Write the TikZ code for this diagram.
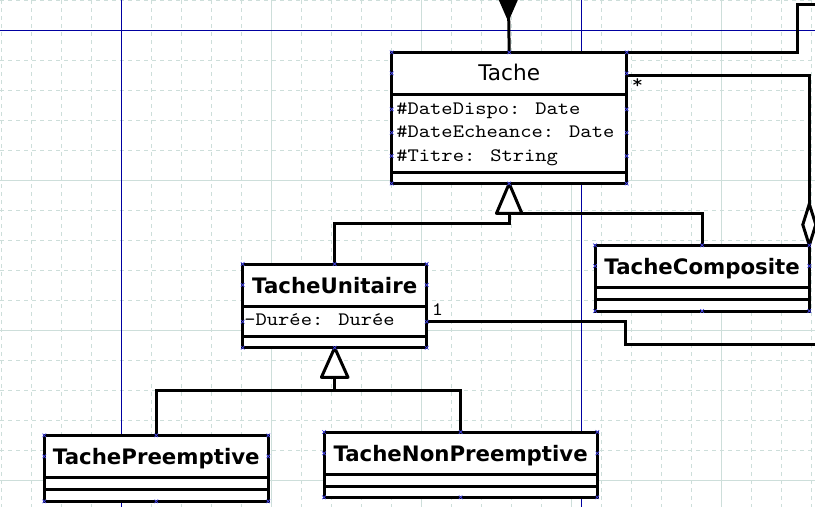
\documentclass[tikz,border=0pt]{standalone}
\usepackage{fontspec}
\setmainfont{DejaVu Sans}
\newfontfamily\monofont[FakeStretch=1.13]{lmmono10-regular.otf}
\usetikzlibrary{calc}

\definecolor{gridgray}{RGB}{205,222,218}
\definecolor{pageblue}{RGB}{0,0,160}
\definecolor{handleblue}{RGB}{70,70,235}

\begin{document}
\begin{tikzpicture}[x=1pt, y=-1pt,
    classbox/.style={draw, line width=3pt, fill=white, outer sep=0pt, inner sep=0pt, anchor=north west},
    classname/.style={font=\fontsize{21.3}{24}\selectfont\bfseries, inner sep=0pt, anchor=base},
    attr/.style={font=\monofont\fontsize{19}{22}\selectfont, inner sep=0pt, anchor=base west},
    mult/.style={font=\monofont\fontsize{19}{20}\selectfont, inner sep=0pt},
    link/.style={line width=3pt},
    sepline/.style={line width=3pt},
    gentri/.style={draw, line width=3pt, fill=white, line join=round},
    gridline/.style={gridgray, line width=1pt, dash pattern=on 4pt off 4pt},
    handle/.pic={\draw[handleblue, line width=0.7pt] (-1.8,-1.8) -- (1.8,1.8) (-1.8,1.8) -- (1.8,-1.8);}]

    % 背景和网格
    \useasboundingbox (0,0) rectangle (815,507);
    \fill[white] (0,0) rectangle (815,507);
    \foreach \gx in {1.7,31.7,...,813}
        \draw[gridline] (\gx,0) -- (\gx,507);
    \foreach \gy in {0.7,30.7,...,510}
        \draw[gridline] (0,\gy) -- (815,\gy);
    \foreach \gx in {271.7,421.7,571.7,721.7}
        \draw[gridgray, line width=1pt] (\gx,0) -- (\gx,507);
    \foreach \gy in {180.7,330.7,480.7}
        \draw[gridgray, line width=1pt] (0,\gy) -- (815,\gy);

    % 页面边界线
    \draw[pageblue, line width=1pt] (121.7,0) -- (121.7,507);
    \draw[pageblue, line width=1pt] (581.7,0) -- (581.7,507);
    \draw[pageblue, line width=1pt] (0,30.7) -- (815,30.7);

    % 类 Tache
    \node[classbox, minimum width=235pt, minimum height=131.2pt] (tache) at (391.7,52.3) {};
    \draw[sepline] ($(tache.north west)+(0,42)$) -- ($(tache.north east)+(0,42)$);
    \draw[sepline] ($(tache.north west)+(0,120)$) -- ($(tache.north east)+(0,120)$);
    \node[font=\fontsize{21.6}{24}\selectfont, inner sep=0pt, anchor=base] (tacheName) at ($(tache.north)+(0,28.4)$) {Tache};
    \node[attr] (dateDispo) at ($(tache.north west)+(4.5,61.7)$) {\#DateDispo: Date};
    \node[attr] (dateEcheance) at ($(tache.north west)+(4.5,85)$) {\#DateEcheance: Date};
    \node[attr] (titre) at ($(tache.north west)+(4.5,108.7)$) {\#Titre: String};

    % 类 TacheUnitaire
    \node[classbox, minimum width=184pt, minimum height=83.7pt] (unit) at (242.7,264) {};
    \draw[sepline] ($(unit.north west)+(0,42.7)$) -- ($(unit.north east)+(0,42.7)$);
    \draw[sepline] ($(unit.north west)+(0,72)$) -- ($(unit.north east)+(0,72)$);
    \node[classname] (unitName) at ($(unit.north)+(0,29.3)$) {TacheUnitaire};
    \node[attr] (duree) at ($(unit.north west)+(1.5,61)$) {-Durée: Durée};

    % 类 TacheComposite
    \node[classbox, minimum width=214.3pt, minimum height=65.7pt] (composite) at (595,245.3) {};
    \draw[sepline] ($(composite.north west)+(0,42)$) -- ($(composite.north east)+(0,42)$);
    \draw[sepline] ($(composite.north west)+(0,53.7)$) -- ($(composite.north east)+(0,53.7)$);
    \node[classname] (compositeName) at ($(composite.north)+(0,29)$) {TacheComposite};

    % 类 TachePreemptive
    \node[classbox, minimum width=224pt, minimum height=66pt] (preempt) at (44.3,435.3) {};
    \draw[sepline] ($(preempt.north west)+(0,42)$) -- ($(preempt.north east)+(0,42)$);
    \draw[sepline] ($(preempt.north west)+(0,54)$) -- ($(preempt.north east)+(0,54)$);
    \node[classname] (preemptName) at ($(preempt.north)+(0,28.7)$) {TachePreemptive};

    % 类 TacheNonPreemptive
    \node[classbox, minimum width=273.3pt, minimum height=65.3pt] (nonpreempt) at (324,432) {};
    \draw[sepline] ($(nonpreempt.north west)+(0,42.3)$) -- ($(nonpreempt.north east)+(0,42.3)$);
    \draw[sepline] ($(nonpreempt.north west)+(0,54)$) -- ($(nonpreempt.north east)+(0,54)$);
    \node[classname] (nonpreemptName) at ($(nonpreempt.north)+(0,29.7)$) {TacheNonPreemptive};

    % 上方的导航关联
    \coordinate (topin) at (508.3,-10);
    \coordinate (navtip) at (508.3,21.7);
    \draw[link] (topin) -- (tache.north);
    \fill (navtip) -- ++(-12.7,-29) -- ++(25.4,0) -- cycle;

    % 右上方的关联
    \coordinate (outtop) at (797.3,4.3);
    \draw[link] (tache.north east) -| (outtop) -- ++(30,0);

    % 聚合 Tache -- TacheComposite
    \coordinate (aggtop) at ($(composite.north east)+(0,-41.3)$);
    \draw[link] ($(tache.north east)+(0,23.4)$) -| (aggtop);
    \draw[gentri, line join=miter] (composite.north east) -- ++(-6.5,-20.6) -- (aggtop) -- ++(6.5,20.6) -- cycle;
    \node[mult] (manyMult) at (637.5,84) {*};

    % 继承 TacheUnitaire, TacheComposite -> Tache
    \coordinate (genbase) at ($(tache.south)+(0,29.8)$);
    \draw[link] (unit.north) |- ($(genbase)+(0,10)$) -- (genbase);
    \draw[link] (composite.north) |- ($(genbase)+(12.7,0)$);
    \draw[gentri] (tache.south) -- ++(12.7,29.8) -- ++(-25.4,0) -- cycle;

    % 继承 TachePreemptive, TacheNonPreemptive -> TacheUnitaire
    \coordinate (genbase2) at ($(unit.south)+(0,29.6)$);
    \coordinate (stem2) at ($(genbase2)+(0,13.4)$);
    \draw[link] (preempt.north) |- (stem2) -| (nonpreempt.north) (stem2) -- (genbase2);
    \draw[gentri] (unit.south) -- ++(13.3,29.6) -- ++(-26.6,0) -- cycle;

    % 右下方的关联
    \coordinate (assocbend) at (625,344.3);
    \draw[link] ($(unit.north east)+(0,57)$) -| (assocbend) -- ++(200,0);
    \node[mult] (oneMult) at (437.5,309.5) {1};

    % 选中标记
    \foreach \b in {tache,unit,composite,preempt,nonpreempt}
        \foreach \a in {north west,north,north east,south west,south,south east}
            \pic at (\b.\a) {handle};
    \foreach \dy in {21,57,80.4,103.7} {
        \pic at ($(tache.north west)+(0,\dy)$) {handle};
        \pic at ($(tache.north east)+(0,\dy)$) {handle};
    }
    \foreach \dy in {21,57.7} {
        \pic at ($(unit.north west)+(0,\dy)$) {handle};
        \pic at ($(unit.north east)+(0,\dy)$) {handle};
    }
    \foreach \b/\dy in {composite/20.7,preempt/21,nonpreempt/21.3} {
        \pic at ($(\b.north west)+(0,\dy)$) {handle};
        \pic at ($(\b.north east)+(0,\dy)$) {handle};
    }
\end{tikzpicture}
\end{document}
